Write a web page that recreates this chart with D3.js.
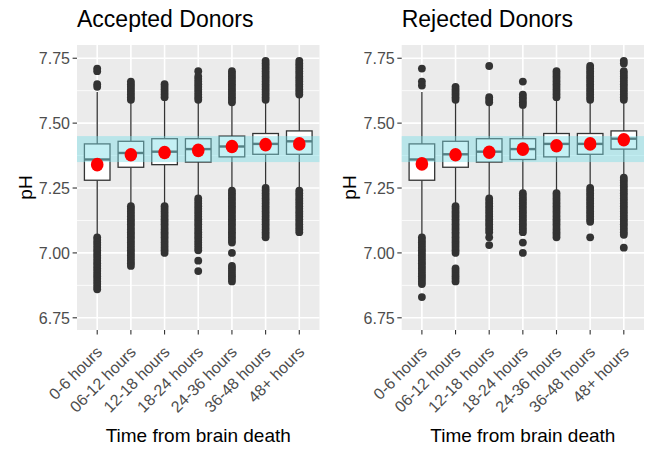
<!DOCTYPE html>
<html>
<head>
<meta charset="utf-8">
<script src="https://cdn.jsdelivr.net/npm/d3@7"></script>
<style>
  body { margin: 0; background: #fff; }
  text { font-family: "Liberation Sans", Arial, sans-serif; }
</style>
</head>
<body>
<div id="chart"></div>
<script>
// categories and tick labels
let categories = ["0-6 hours", "06-12 hours", "12-18 hours", "18-24 hours", "24-36 hours", "36-48 hours", "48+ hours"];
let yTicks = [6.75, 7.00, 7.25, 7.50, 7.75];
let yMinor = [6.875, 7.125, 7.375, 7.625];
let normalRange = [7.35, 7.45];

// Accepted donors
let accQ1 = [7.28, 7.33, 7.34, 7.35, 7.37, 7.38, 7.38];
let accMedian = [7.36, 7.385, 7.39, 7.40, 7.41, 7.42, 7.43];
let accQ3 = [7.42, 7.43, 7.44, 7.44, 7.45, 7.46, 7.47];
let accLo = [7.07, 7.19, 7.19, 7.22, 7.25, 7.26, 7.25];
let accHi = [7.62, 7.58, 7.59, 7.58, 7.57, 7.58, 7.60];
let accMean = [7.34, 7.378, 7.387, 7.395, 7.41, 7.417, 7.42];
let accOutliers = [
  [7.71, 7.70, 7.65, 7.64,
   7.06, 7.05, 7.04, 7.03, 7.02, 7.01, 7.00, 6.99, 6.98, 6.97, 6.96, 6.95, 6.94, 6.93, 6.92, 6.91, 6.90, 6.89, 6.88, 6.87, 6.86],
  [7.66, 7.65, 7.64, 7.63, 7.62, 7.61, 7.60, 7.59,
   7.18, 7.17, 7.16, 7.15, 7.14, 7.13, 7.12, 7.11, 7.10, 7.09, 7.08, 7.07, 7.06, 7.05, 7.04, 7.03, 7.02, 7.01, 7.00, 6.99, 6.98, 6.97, 6.96, 6.95],
  [7.65, 7.64, 7.63, 7.62, 7.61, 7.60,
   7.18, 7.17, 7.16, 7.15, 7.14, 7.13, 7.12, 7.11, 7.10, 7.09, 7.08, 7.07, 7.06, 7.05, 7.04, 7.03, 7.02, 7.01, 7.00],
  [7.70, 7.68, 7.67, 7.66, 7.65, 7.64, 7.63, 7.62, 7.61, 7.60, 7.59,
   7.21, 7.20, 7.19, 7.18, 7.17, 7.16, 7.15, 7.14, 7.13, 7.12, 7.11, 7.10, 7.09, 7.08, 7.07, 7.06, 7.05, 7.04, 7.03, 7.02, 7.01, 6.97, 6.93],
  [7.70, 7.69, 7.68, 7.67, 7.66, 7.65, 7.64, 7.63, 7.62, 7.61, 7.60, 7.59, 7.58,
   7.24, 7.23, 7.22, 7.21, 7.20, 7.19, 7.18, 7.17, 7.16, 7.15, 7.14, 7.13, 7.12, 7.11, 7.10, 7.09, 7.08, 7.07, 7.06, 7.05, 7.04, 7.00, 6.95, 6.94, 6.93, 6.92, 6.91, 6.90, 6.89],
  [7.74, 7.73, 7.72, 7.71, 7.70, 7.69, 7.68, 7.67, 7.66, 7.65, 7.64, 7.63, 7.62, 7.61, 7.60, 7.59,
   7.25, 7.24, 7.23, 7.22, 7.21, 7.20, 7.19, 7.18, 7.17, 7.16, 7.15, 7.14, 7.13, 7.12, 7.11, 7.10, 7.09, 7.08, 7.07, 7.06],
  [7.74, 7.73, 7.72, 7.71, 7.70, 7.69, 7.68, 7.67, 7.66, 7.65, 7.64, 7.63, 7.62, 7.61,
   7.24, 7.23, 7.22, 7.21, 7.20, 7.19, 7.18, 7.17, 7.16, 7.15, 7.14, 7.13, 7.12, 7.11, 7.10, 7.09, 7.08]
];

// Rejected donors
let rejQ1 = [7.28, 7.33, 7.35, 7.36, 7.37, 7.38, 7.40];
let rejMedian = [7.36, 7.38, 7.39, 7.40, 7.42, 7.42, 7.44];
let rejQ3 = [7.42, 7.43, 7.44, 7.44, 7.46, 7.46, 7.47];
let rejLo = [7.07, 7.19, 7.22, 7.24, 7.24, 7.26, 7.30];
let rejHi = [7.62, 7.58, 7.57, 7.56, 7.59, 7.58, 7.58];
let rejMean = [7.343, 7.378, 7.388, 7.40, 7.413, 7.42, 7.436];
let rejOutliers = [
  [7.71, 7.66, 7.645,
   7.06, 7.05, 7.04, 7.03, 7.02, 7.01, 7.00, 6.99, 6.98, 6.97, 6.96, 6.95, 6.94, 6.93, 6.92, 6.91, 6.90, 6.89, 6.88, 6.83],
  [7.64, 7.63, 7.62, 7.61, 7.60, 7.59,
   7.18, 7.17, 7.16, 7.15, 7.14, 7.13, 7.12, 7.11, 7.10, 7.09, 7.08, 7.07, 7.06, 7.05, 7.04, 7.03, 7.02, 7.01, 7.00, 6.94, 6.93, 6.92, 6.91, 6.90, 6.89],
  [7.72, 7.60, 7.59, 7.58,
   7.21, 7.20, 7.19, 7.18, 7.17, 7.16, 7.15, 7.14, 7.13, 7.12, 7.11, 7.10, 7.09, 7.08, 7.06, 7.03],
  [7.66, 7.61, 7.60, 7.59, 7.58, 7.57,
   7.23, 7.22, 7.21, 7.20, 7.19, 7.18, 7.17, 7.16, 7.15, 7.14, 7.13, 7.12, 7.11, 7.10, 7.09, 7.08, 7.04, 7.00],
  [7.70, 7.69, 7.68, 7.67, 7.66, 7.65, 7.64, 7.63, 7.62, 7.61, 7.60,
   7.23, 7.22, 7.21, 7.20, 7.19, 7.18, 7.17, 7.16, 7.15, 7.14, 7.13, 7.12, 7.11, 7.10, 7.09, 7.08, 7.07, 7.06],
  [7.72, 7.71, 7.70, 7.69, 7.68, 7.67, 7.66, 7.65, 7.64, 7.63, 7.62, 7.61, 7.60, 7.59,
   7.25, 7.24, 7.23, 7.22, 7.21, 7.20, 7.19, 7.18, 7.17, 7.16, 7.15, 7.14, 7.13, 7.12, 7.06],
  [7.74, 7.73, 7.70, 7.69, 7.68, 7.67, 7.66, 7.65, 7.64, 7.63, 7.62, 7.61, 7.60, 7.59,
   7.29, 7.28, 7.27, 7.26, 7.25, 7.24, 7.23, 7.22, 7.21, 7.20, 7.19, 7.18, 7.17, 7.16, 7.15, 7.14, 7.13, 7.12, 7.11, 7.10, 7.09, 7.08, 7.07, 7.02]
];

let svg = d3.select("#chart").append("svg")
    .attr("width", 647).attr("height", 450);

function drawPanel(title, left, right, q1, med, q3, lo, hi, means, outliers, labelX) {
    let top = 45, bottom = 330;
    let x = d3.scalePoint().domain(categories).range([left, right]).padding(0.6);
    let y = d3.scaleLinear().domain([6.703, 7.801]).range([bottom, top]);
    let boxW = x.step() * 0.76;

    let g = svg.append("g");

    // panel background and grid
    g.append("rect")
        .attr("x", left).attr("y", top)
        .attr("width", right - left).attr("height", bottom - top)
        .attr("fill", "#ebebeb");
    yMinor.forEach(v => {
        g.append("line").attr("x1", left).attr("x2", right)
            .attr("y1", y(v)).attr("y2", y(v))
            .attr("stroke", "#fff").attr("stroke-width", 0.8);
    });
    yTicks.forEach(v => {
        g.append("line").attr("x1", left).attr("x2", right)
            .attr("y1", y(v)).attr("y2", y(v))
            .attr("stroke", "#fff").attr("stroke-width", 1.6);
    });
    categories.forEach(c => {
        g.append("line").attr("x1", x(c)).attr("x2", x(c))
            .attr("y1", top).attr("y2", bottom)
            .attr("stroke", "#fff").attr("stroke-width", 1.6);
    });

    // boxplots
    categories.forEach((c, i) => {
        let cx = x(c);
        g.append("line").attr("x1", cx).attr("x2", cx)
            .attr("y1", y(q3[i])).attr("y2", y(hi[i]))
            .attr("stroke", "#333").attr("stroke-width", 1.3);
        g.append("line").attr("x1", cx).attr("x2", cx)
            .attr("y1", y(q1[i])).attr("y2", y(lo[i]))
            .attr("stroke", "#333").attr("stroke-width", 1.3);
        g.append("rect")
            .attr("x", cx - boxW / 2).attr("y", y(q3[i]))
            .attr("width", boxW).attr("height", y(q1[i]) - y(q3[i]))
            .attr("fill", "#fff").attr("stroke", "#333").attr("stroke-width", 1.3);
        g.append("line").attr("x1", cx - boxW / 2).attr("x2", cx + boxW / 2)
            .attr("y1", y(med[i])).attr("y2", y(med[i]))
            .attr("stroke", "#333").attr("stroke-width", 2.4);
        g.selectAll(null).data(outliers[i]).enter().append("circle")
            .attr("cx", cx).attr("cy", d => y(d)).attr("r", 3.9)
            .attr("fill", "#333");
    });

    // normal pH band
    g.append("rect")
        .attr("x", left).attr("y", y(normalRange[1]))
        .attr("width", right - left).attr("height", y(normalRange[0]) - y(normalRange[1]))
        .attr("fill", "rgb(124,222,230)").attr("fill-opacity", 0.45);

    // means
    g.selectAll(null).data(means).enter().append("ellipse")
        .attr("cx", (d, i) => x(categories[i])).attr("cy", d => y(d))
        .attr("rx", 6.3).attr("ry", 6.8)
        .attr("fill", "#ff0000");

    // y axis
    yTicks.forEach(v => {
        g.append("line").attr("x1", left - 4.4).attr("x2", left)
            .attr("y1", y(v)).attr("y2", y(v))
            .attr("stroke", "#333").attr("stroke-width", 1.1);
        g.append("text")
            .attr("x", left - 7).attr("y", y(v))
            .attr("dy", "0.36em")
            .attr("text-anchor", "end")
            .style("font-size", "16px").style("fill", "#4d4d4d")
            .text(v.toFixed(2));
    });

    // x axis
    categories.forEach(c => {
        g.append("line").attr("x1", x(c)).attr("x2", x(c))
            .attr("y1", bottom).attr("y2", bottom + 4.4)
            .attr("stroke", "#333").attr("stroke-width", 1.1);
        g.append("text")
            .attr("transform", `translate(${x(c) + 6},353) rotate(-45)`)
            .attr("text-anchor", "end")
            .style("font-size", "16px").style("fill", "#4d4d4d")
            .text(c);
    });

    // titles
    g.append("text").attr("x", left).attr("y", 27)
        .style("font-size", "23px").style("fill", "#000")
        .text(title);
    g.append("text").attr("x", (left + right) / 2).attr("y", 442)
        .attr("text-anchor", "middle")
        .style("font-size", "19px").style("fill", "#000")
        .text("Time from brain death");
    g.append("text")
        .attr("transform", `translate(${labelX},${(top + bottom) / 2}) rotate(-90)`)
        .attr("text-anchor", "middle")
        .style("font-size", "19px").style("fill", "#000")
        .text("pH");
}

drawPanel("Accepted Donors", 77, 319.5, accQ1, accMedian, accQ3, accLo, accHi, accMean, accOutliers, 31.5);
drawPanel("Rejected Donors", 401.7, 644, rejQ1, rejMedian, rejQ3, rejLo, rejHi, rejMean, rejOutliers, 355.5);
</script>
</body>
</html>
